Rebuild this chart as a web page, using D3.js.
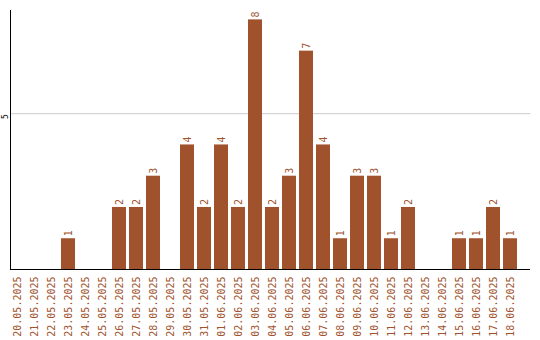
<!DOCTYPE html>
<html><head><meta charset="utf-8">
<script src="https://cdn.jsdelivr.net/npm/d3@7"></script>
<style>body{margin:0;background:#fff}svg{display:block}</style>
</head><body>
<script>
const dates = ["20.05.2025","21.05.2025","22.05.2025","23.05.2025","24.05.2025","25.05.2025","26.05.2025","27.05.2025","28.05.2025","29.05.2025","30.05.2025","31.05.2025","01.06.2025","02.06.2025","03.06.2025","04.06.2025","05.06.2025","06.06.2025","07.06.2025","08.06.2025","09.06.2025","10.06.2025","11.06.2025","12.06.2025","13.06.2025","14.06.2025","15.06.2025","16.06.2025","17.06.2025","18.06.2025"];
const counts = [0,0,0,1,0,0,2,2,3,0,4,2,4,2,8,2,3,7,4,1,3,3,1,2,0,0,1,1,2,1];
const yTicks = [5];
const yMax = 8.3;

const W = 540, H = 340;
const color = "#a0522d";
const font = "'DejaVu Sans Mono', monospace";
const svg = d3.select("body").append("svg").attr("width", W).attr("height", H);

const x = d3.scaleBand().domain(dates).range([10, 517]).paddingInner(3/17).paddingOuter(0).align(0);
const y = d3.scaleLinear().domain([0, yMax]).range([269.5, 10]);

// gridline + y tick label
const ya = svg.append("g").attr("transform", "translate(10.5,0)")
  .call(d3.axisLeft(y).tickValues(yTicks).tickSize(-520).tickFormat(d3.format("d")));
ya.select(".domain").remove();
ya.selectAll(".tick line").attr("stroke", "#cccccc").attr("x1", 0.5);
ya.selectAll(".tick text").attr("x", 0).attr("dy", 0)
  .attr("transform", "translate(-3,3) rotate(-90)")
  .attr("text-anchor", "middle")
  .style("font-family", font).style("font-size", "8px").attr("fill", "#000");

// bars
svg.append("g").selectAll("rect").data(counts).join("rect")
  .attr("x", (d, i) => x(dates[i]))
  .attr("width", x.bandwidth())
  .attr("y", d => y(d))
  .attr("height", d => y(0) - y(d))
  .attr("fill", color);

// value labels
svg.append("g").selectAll("text").data(counts.map((v, i) => ({v, i})).filter(d => d.v > 0)).join("text")
  .attr("transform", d => `translate(${x(dates[d.i]) + x.bandwidth()/2},${y(d.v) - 2}) rotate(-90)`)
  .attr("dy", "0.35em")
  .attr("text-anchor", "start")
  .style("font-family", font).style("font-size", "10px")
  .attr("fill", color)
  .text(d => d.v);

// x axis labels
const xa = svg.append("g").attr("transform", "translate(0,269.5)")
  .call(d3.axisBottom(x).tickSize(0));
xa.select(".domain").remove();
xa.selectAll(".tick text")
  .attr("y", 0).attr("dy", "0.35em")
  .attr("transform", "translate(0,7) rotate(-90)")
  .attr("text-anchor", "end")
  .style("font-family", font).style("font-size", "10px")
  .attr("fill", color);

// axis lines
svg.append("line").attr("x1", 10.5).attr("x2", 10.5).attr("y1", 10).attr("y2", 270)
  .attr("stroke", "#000");
svg.append("line").attr("x1", 10).attr("x2", 530).attr("y1", 269.5).attr("y2", 269.5)
  .attr("stroke", "#000");
</script>
</body></html>
